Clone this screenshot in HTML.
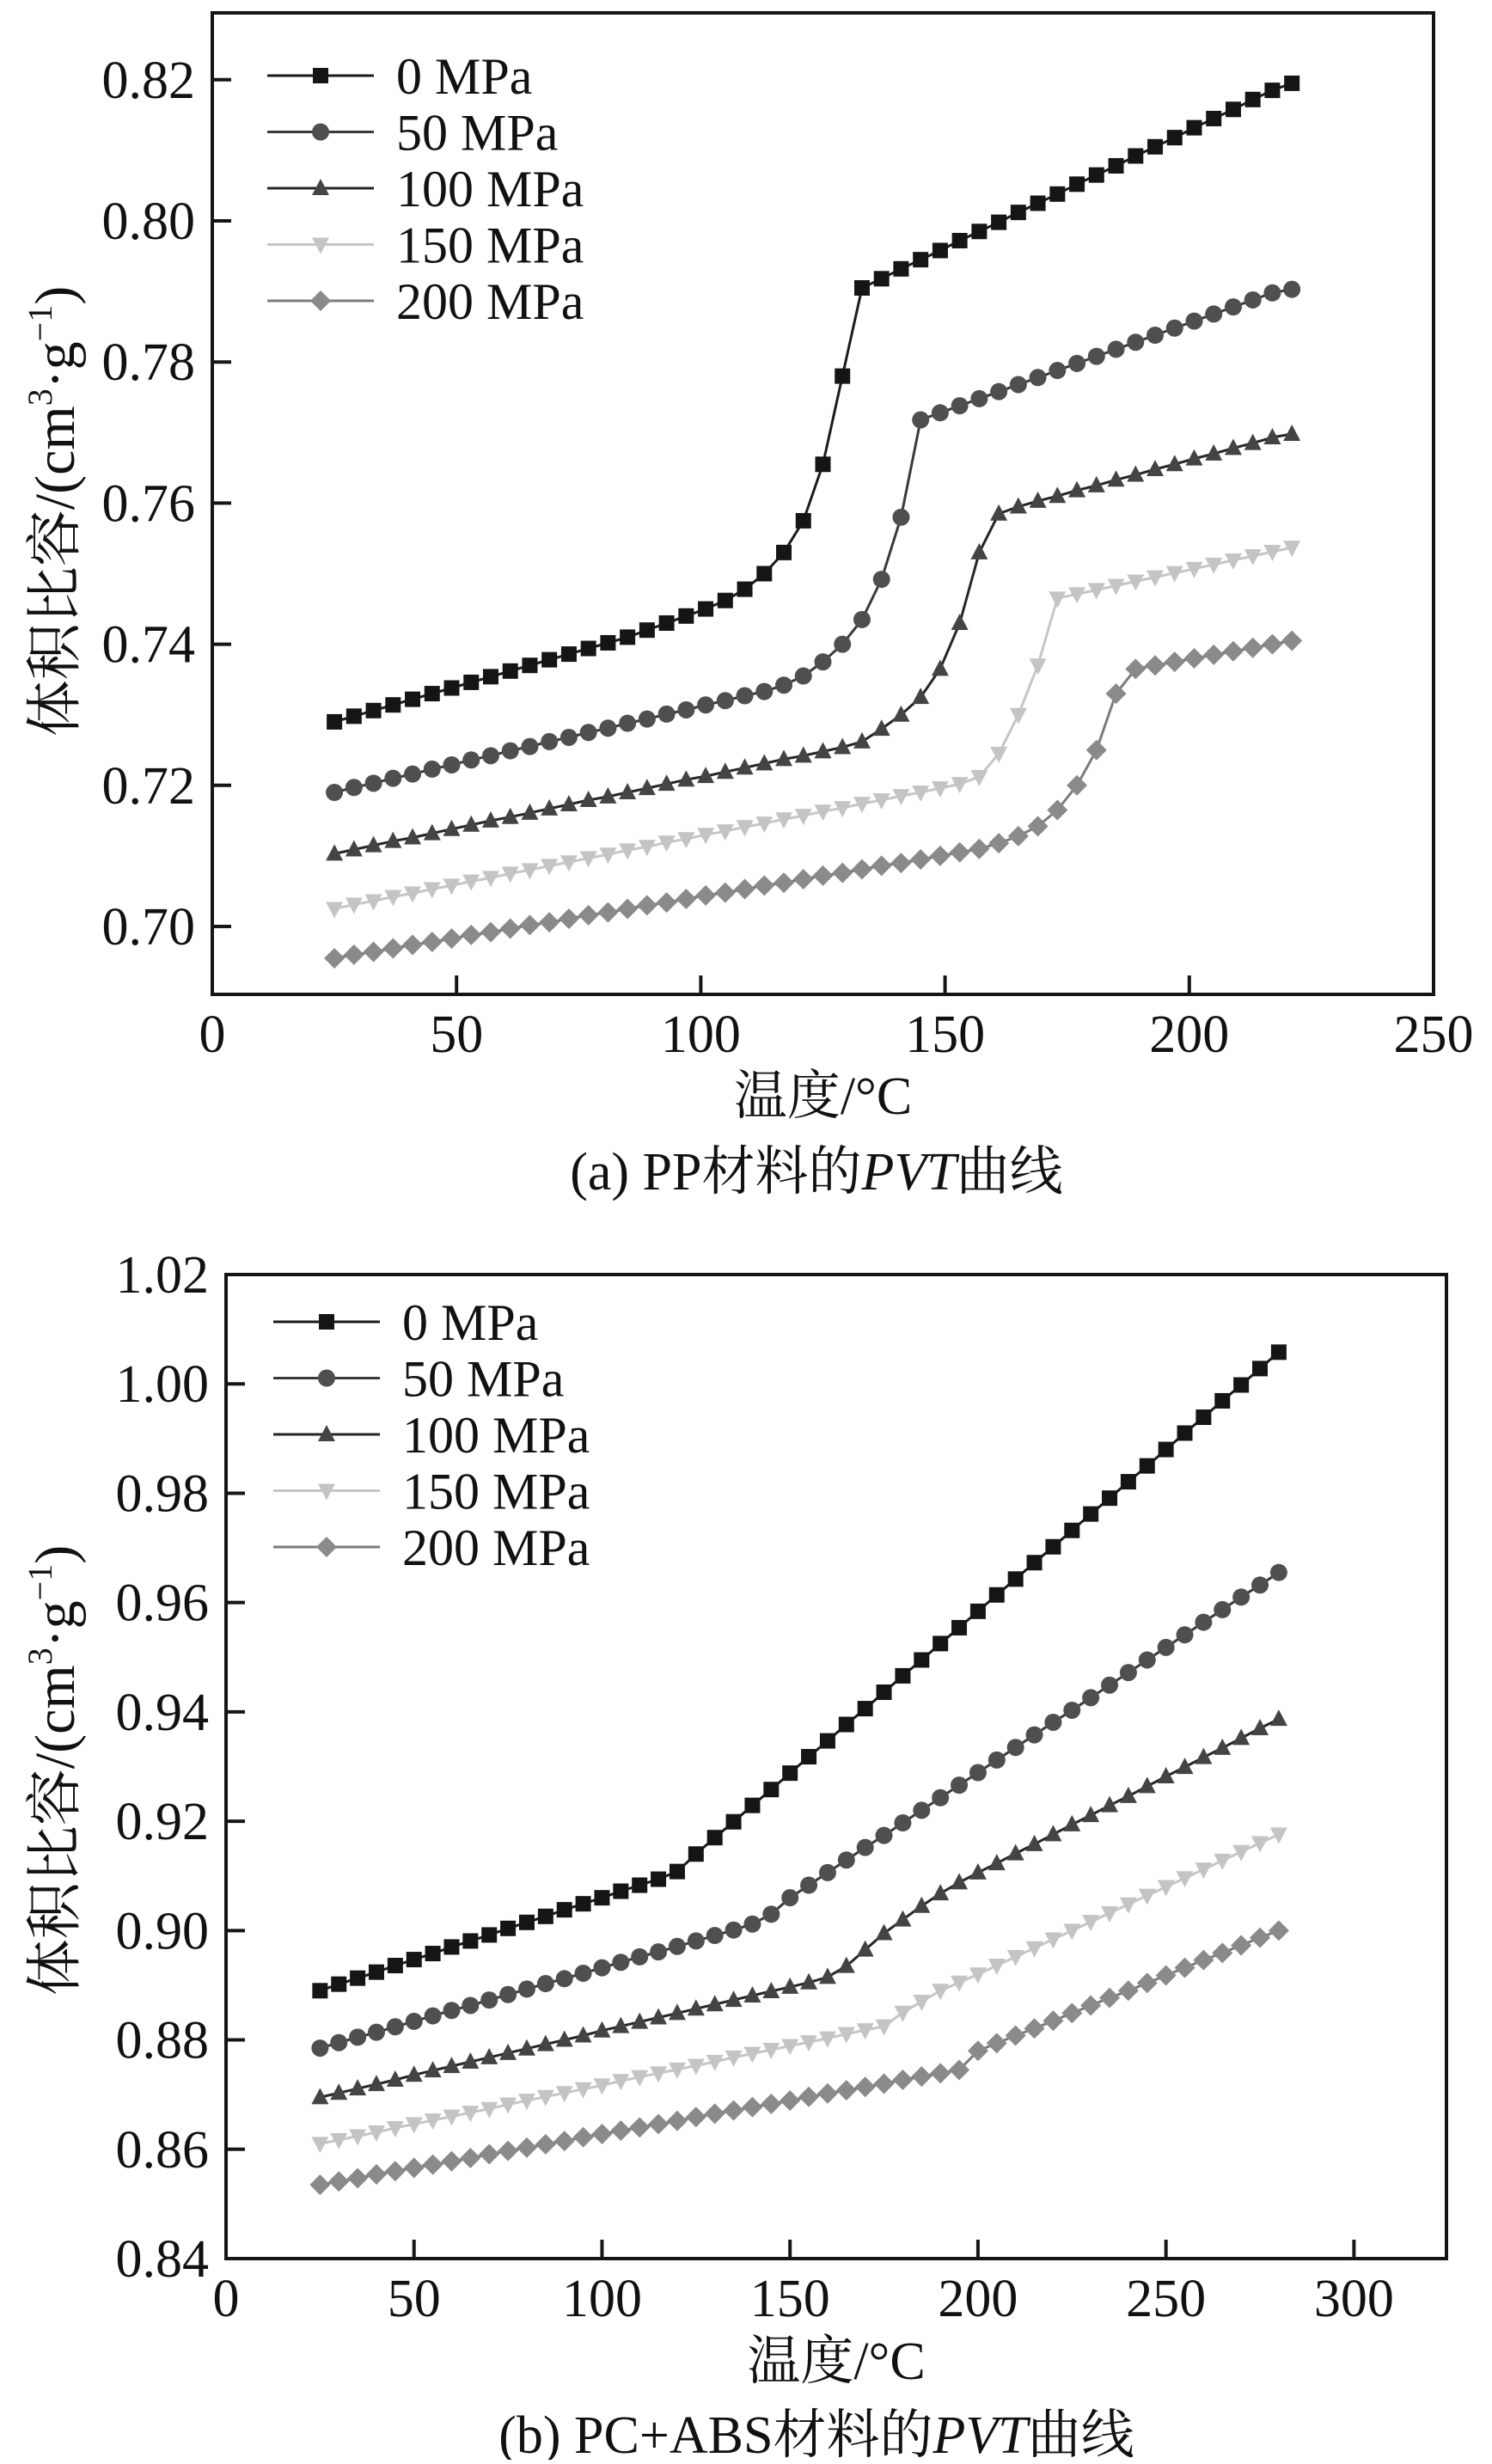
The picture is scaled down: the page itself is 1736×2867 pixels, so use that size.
<!DOCTYPE html>
<html><head><meta charset="utf-8"><style>
html,body{margin:0;padding:0;background:#fff}
svg text{font-family:"Liberation Serif","Noto Serif CJK SC","Noto Sans CJK SC",serif;fill:#111}
</style></head><body>
<svg id="svg" width="1736" height="2862" viewBox="0 0 1736 2862" xmlns="http://www.w3.org/2000/svg">
<rect width="1736" height="2862" fill="#fff"/>
<g id="chartA"></g>
<g id="chartB"></g>
</svg>
<script>
// ---------- Chart (a) PP data ----------
const tempsA = [25,29,33,37,41,45,49,53,57,61,65,69,73,77,81,85,89,93,97,101,105,109,113,117,121,125,129,133,137,141,145,149,153,157,161,165,169,173,177,181,185,189,193,197,201,205,209,213,217,221];
const a0 = [.7290,.7298,.7306,.7314,.7322,.7330,.7338,.7346,.7354,.7362,.7370,.7378,.7386,.7394,.7402,.7410,.7420,.7430,.7440,.7450,.7462,.7478,.7500,.7530,.7575,.7655,.7780,.7905,.7918,.7932,.7945,.7958,.7972,.7985,.7998,.8012,.8025,.8038,.8052,.8065,.8078,.8092,.8105,.8118,.8132,.8145,.8158,.8172,.8185,.8195];
const a50 = [.7190,.7197,.7203,.7210,.7216,.7223,.7229,.7236,.7242,.7249,.7255,.7262,.7268,.7275,.7281,.7288,.7294,.7301,.7307,.7314,.7320,.7327,.7333,.7342,.7355,.7375,.7400,.7435,.7492,.7580,.7718,.7728,.7738,.7748,.7758,.7768,.7778,.7788,.7798,.7808,.7818,.7828,.7838,.7848,.7858,.7868,.7878,.7888,.7898,.7903];
const a100 = [.7103,.7109,.7115,.7121,.7126,.7132,.7138,.7144,.7150,.7155,.7161,.7167,.7173,.7179,.7184,.7190,.7196,.7202,.7208,.7213,.7219,.7225,.7231,.7237,.7242,.7248,.7254,.7262,.7280,.7300,.7325,.7365,.7430,.7530,.7585,.7595,.7603,.7610,.7618,.7625,.7633,.7640,.7648,.7655,.7663,.7670,.7678,.7685,.7693,.7698];
const a150 = [.7025,.7031,.7036,.7042,.7047,.7053,.7058,.7064,.7069,.7075,.7080,.7086,.7091,.7097,.7102,.7108,.7113,.7119,.7124,.7130,.7135,.7141,.7146,.7152,.7157,.7163,.7168,.7174,.7179,.7185,.7190,.7196,.7202,.7212,.7245,.7300,.7370,.7465,.7471,.7477,.7483,.7489,.7495,.7501,.7507,.7513,.7519,.7525,.7531,.7537];
const a200 = [.6955,.6960,.6964,.6969,.6974,.6978,.6983,.6988,.6992,.6997,.7002,.7006,.7011,.7016,.7020,.7025,.7030,.7034,.7039,.7044,.7048,.7053,.7058,.7062,.7067,.7072,.7076,.7081,.7086,.7090,.7095,.7100,.7105,.7110,.7118,.7128,.7142,.7165,.7200,.7250,.7330,.7365,.7370,.7375,.7380,.7385,.7390,.7395,.7400,.7405];
const xTicksA = [0,50,100,150,200,250];
const yTicksA = [0.70,0.72,0.74,0.76,0.78,0.80,0.82];
const yTickLabelsA = ["0.70","0.72","0.74","0.76","0.78","0.80","0.82"];

// ---------- Chart (b) PC+ABS data ----------
const tempsB = [25,30,35,40,45,50,55,60,65,70,75,80,85,90,95,100,105,110,115,120,125,130,135,140,145,150,155,160,165,170,175,180,185,190,195,200,205,210,215,220,225,230,235,240,245,250,255,260,265,270,275,280];
const b0 = [.8890,.8902,.8913,.8924,.8936,.8947,.8958,.8970,.8981,.8992,.9004,.9015,.9026,.9038,.9049,.9060,.9072,.9083,.9094,.9108,.9140,.9170,.9199,.9229,.9258,.9288,.9318,.9347,.9377,.9406,.9436,.9466,.9495,.9525,.9554,.9584,.9614,.9643,.9673,.9702,.9732,.9762,.9791,.9821,.9850,.9880,.9910,.9939,.9969,.9998,1.0028,1.0058];
const b50 = [.8785,.8795,.8805,.8814,.8824,.8834,.8844,.8854,.8863,.8873,.8883,.8893,.8903,.8912,.8922,.8932,.8942,.8952,.8961,.8971,.8981,.8991,.9001,.9012,.9030,.9060,.9083,.9106,.9129,.9152,.9174,.9197,.9220,.9243,.9266,.9289,.9312,.9335,.9358,.9381,.9403,.9426,.9449,.9472,.9495,.9518,.9541,.9564,.9587,.9610,.9632,.9655];
const b100 = [.8695,.8703,.8711,.8719,.8727,.8736,.8744,.8752,.8760,.8768,.8776,.8784,.8792,.8800,.8808,.8817,.8825,.8833,.8841,.8849,.8857,.8865,.8873,.8881,.8889,.8897,.8905,.8915,.8935,.8965,.8995,.9020,.9045,.9068,.9088,.9106,.9123,.9141,.9158,.9176,.9194,.9211,.9229,.9246,.9264,.9282,.9299,.9317,.9334,.9352,.9370,.9387];
const b150 = [.8610,.8617,.8624,.8631,.8639,.8646,.8653,.8660,.8667,.8674,.8682,.8689,.8696,.8703,.8710,.8717,.8725,.8732,.8739,.8746,.8753,.8760,.8768,.8775,.8782,.8789,.8796,.8803,.8811,.8818,.8825,.8850,.8870,.8890,.8905,.8920,.8936,.8952,.8968,.8984,.9000,.9016,.9032,.9048,.9064,.9080,.9096,.9112,.9128,.9144,.9160,.9176];
const b200 = [.8535,.8541,.8547,.8554,.8560,.8566,.8572,.8578,.8584,.8591,.8597,.8603,.8609,.8615,.8622,.8628,.8634,.8640,.8646,.8652,.8659,.8665,.8671,.8677,.8683,.8689,.8696,.8702,.8708,.8714,.8720,.8727,.8733,.8739,.8745,.8780,.8794,.8808,.8821,.8835,.8849,.8863,.8877,.8890,.8904,.8918,.8932,.8946,.8959,.8973,.8987,.9000];
const xTicksB = [0,50,100,150,200,250,300];
const yTicksB = [0.84,0.86,0.88,0.90,0.92,0.94,0.96,0.98,1.00,1.02];
const yTickLabelsB = ["0.84","0.86","0.88","0.90","0.92","0.94","0.96","0.98","1.00","1.02"];

const seriesNames = ["0 MPa","50 MPa","100 MPa","150 MPa","200 MPa"];
const NS = "http://www.w3.org/2000/svg";
const styles = [
  {line:"#1b1b1b", fill:"#151515", shape:"square"},
  {line:"#3a3a3a", fill:"#4f4f4f", shape:"circle"},
  {line:"#262626", fill:"#444444", shape:"tri"},
  {line:"#c6c6c6", fill:"#c4c4c4", shape:"tridown"},
  {line:"#7c7c7c", fill:"#8a8a8a", shape:"diamond"}
];
function mk(tag, attrs, parent){const e=document.createElementNS(NS,tag);for(const k in attrs)e.setAttribute(k,attrs[k]);parent.appendChild(e);return e;}
function marker(g, shape, cx, cy, fill){
  const s=9; let e;
  if(shape==="square") e=mk("rect",{x:cx-s,y:cy-s,width:2*s,height:2*s,fill:fill},g);
  else if(shape==="circle") e=mk("circle",{cx:cx,cy:cy,r:s+1,fill:fill},g);
  else if(shape==="tri") e=mk("polygon",{points:`${cx},${cy-s-2} ${cx+s+1},${cy+s-1} ${cx-s-1},${cy+s-1}`,fill:fill},g);
  else if(shape==="tridown") e=mk("polygon",{points:`${cx},${cy+s+2} ${cx+s+1},${cy-s+1} ${cx-s-1},${cy-s+1}`,fill:fill},g);
  else e=mk("polygon",{points:`${cx},${cy-s-3} ${cx+s+3},${cy} ${cx},${cy+s+3} ${cx-s-3},${cy}`,fill:fill},g);
  return e;
}
function drawChart(g, cfg){
  const {L,R,T,B,xmin,xmax,ymin,ymax,temps,series,xTicks,yTicks,yLabels,legendY,legendX,xlabY,capY,caption,tag,ylabCY} = cfg;
  const X=v=>L+(v-xmin)/(xmax-xmin)*(R-L);
  const Y=v=>B-(v-ymin)/(ymax-ymin)*(B-T);
  series.forEach((vals,i)=>{
    const st=styles[i];
    const sg=mk("g",{},g);
    
    
    const pts=vals.map((v,j)=>X(temps[j]).toFixed(1)+","+Y(v).toFixed(1)).join(" ");
    const pl=mk("polyline",{points:pts,fill:"none",stroke:st.line,"stroke-width":3},sg);
    
    
    vals.forEach((v,j)=>{
      const m=marker(sg,st.shape,X(temps[j]),Y(v),st.fill);
      
      
    });
  });
  const fr=mk("rect",{x:L,y:T,width:R-L,height:B-T,fill:"none",stroke:"#151515","stroke-width":4},g);
  
  
  xTicks.forEach(t=>{
    const x=X(t);
    if(t!==xmin && x<R-2) mk("line",{x1:x,y1:B,x2:x,y2:B-22,stroke:"#151515","stroke-width":4},g);
    const tx=mk("text",{x:x,y:B+67,"font-size":62,"text-anchor":"middle"},g);
    tx.textContent=String(t);
    
    
  });
  yTicks.forEach((t,i)=>{
    const y=Y(t);
    if(y<B-2 && y>T+2) mk("line",{x1:L,y1:y,x2:L+22,y2:y,stroke:"#151515","stroke-width":4},g);
    const tx=mk("text",{x:L-20,y:y+21,"font-size":62,"text-anchor":"end"},g);
    tx.textContent=yLabels[i];
    
    
  });
  const lg=mk("g",{},g);
  
  
  seriesNames.forEach((n,i)=>{
    const y=legendY+i*65.5, st=styles[i];
    const eg=mk("g",{},lg);
    
    
    mk("line",{x1:legendX,y1:y,x2:legendX+124,y2:y,stroke:st.line,"stroke-width":3},eg);
    marker(eg,st.shape,legendX+62,y,st.fill);
    const tx=mk("text",{x:legendX+150,y:y+21,"font-size":60},eg);
    tx.textContent=n;
  });
  const xl=mk("text",{x:(L+R)/2,y:xlabY,"font-size":62,"text-anchor":"middle"},g);
  xl.textContent="温度/°C";
  
  
  const yl=mk("text",{x:0,y:0,"font-size":66,"text-anchor":"middle",transform:`translate(86,${ylabCY}) rotate(-90)`},g);
  yl.innerHTML='体积比容/(cm<tspan font-size="40" dy="-26">3</tspan><tspan dy="26">·g</tspan><tspan font-size="40" dy="-26">−1</tspan><tspan dy="26">)</tspan>';
  
  
  const cp=mk("text",{x:950,y:capY,"font-size":62,"text-anchor":"middle"},g);
  cp.innerHTML=caption;
  
  
}
drawChart(document.getElementById("chartA"),{
  L:247,R:1668,T:15,B:1157,xmin:0,xmax:250,ymin:0.70-79/164.2*0.02,ymax:0.70+(1078-15)/164.2*0.02,
  temps:tempsA,series:[a0,a50,a100,a150,a200],xTicks:xTicksA,yTicks:yTicksA,yLabels:yTickLabelsA,
  legendY:88,legendX:311,xlabY:1296,capY:1384,ylabCY:595,tag:"pp",
  caption:'(a) PP材料的<tspan font-style="italic">PVT</tspan>曲线'
});
drawChart(document.getElementById("chartB"),{
  L:263,R:1683,T:1483,B:2628,xmin:0,xmax:324.6,ymin:0.84,ymax:1.02,
  temps:tempsB,series:[b0,b50,b100,b150,b200],xTicks:xTicksB,yTicks:yTicksB,yLabels:yTickLabelsB,
  legendY:1538,legendX:318,xlabY:2768,capY:2854,ylabCY:2060,tag:"pcabs",
  caption:'(b) PC+ABS材料的<tspan font-style="italic">PVT</tspan>曲线'
});
</script>
</body></html>
